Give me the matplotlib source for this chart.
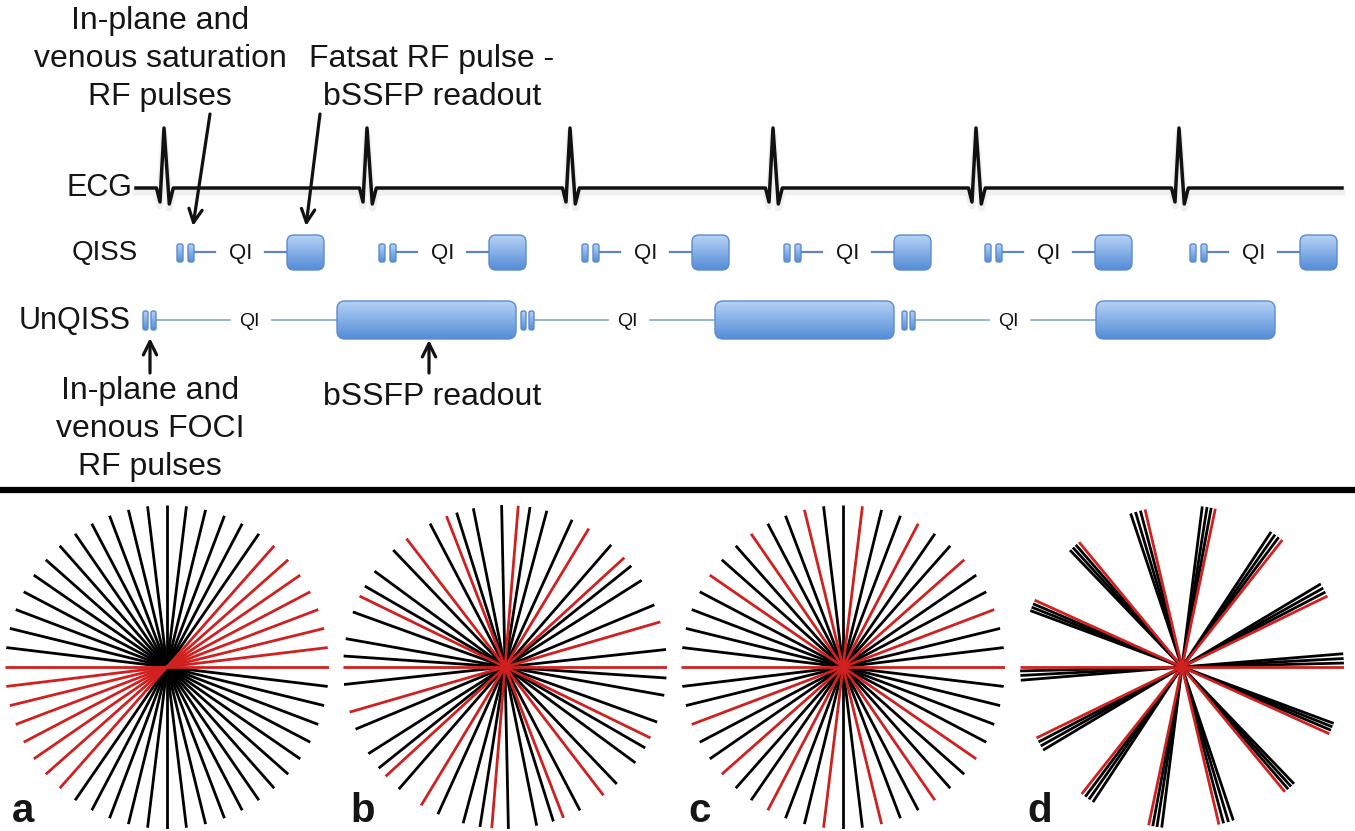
import numpy as np
import matplotlib
matplotlib.use("Agg")
import matplotlib.pyplot as plt
from matplotlib.patches import FancyBboxPatch

plt.rcParams['font.family'] = ['Liberation Sans', 'DejaVu Sans']

# ---- data ----
ecg_peaks = [164, 367, 570, 773, 976, 1179]          # R-wave positions
qiss_starts = [177, 379, 582, 784, 985, 1190]        # QISS cycle starts
unqiss_starts = [143, 521, 902]                      # UnQISS cycle starts

# spoke angles (degrees), each spoke is a full diameter
a_red = [0, 6.9, 13.8, 20.8, 27.7, 34.6, 41.5, 48.5]
a_black = [55.4, 62.3, 69.2, 76.2, 83.1, 90, 96.9, 103.8, 110.8, 117.7, 124.6,
           131.5, 138.5, 145.4, 152.3, 159.2, 166.2, 173.1]
b_red = [0, 16.2, 42.5, 58.8, 85.3, 111.2, 127.5, 154.0]
b_black = [6.2, 22.6, 32.4, 38.7, 49.0, 65.5, 75.0, 81.1, 91.2, 101.3, 107.4,
           117.6, 133.7, 143.7, 150.0, 160.1, 169.9, 176.1]
c_red = [0, 20.8, 41.5, 62.3, 83.1, 103.8, 124.6, 145.4]
c_black = [6.9, 13.8, 27.7, 34.6, 48.5, 55.4, 69.2, 76.2, 90, 96.9, 110.8,
           117.7, 131.5, 138.5, 152.3, 159.2, 166.2, 173.1]
d_red = [0, 26.0, 51.7, 78.1, 103.2, 129.5, 155.6]
d_black = [1.4, 3.0, 4.7, 27.6, 29.2, 30.9, 53.3, 54.9, 56.6, 79.6, 81.1, 82.8,
           104.9, 106.7, 108.5, 131.0, 132.4, 133.8, 157.0, 158.3, 159.6]
panels = [('a', a_black, a_red, 167), ('b', b_black, b_red, 505),
          ('c', c_black, c_red, 843), ('d', d_black, d_red, 1182)]

W, H = 1355, 831
fig = plt.figure(figsize=(W / 100, H / 100), dpi=100)
ax = fig.add_axes([0, 0, 1, 1])
ax.axis('off')

TXT = '#151515'
RED = '#d02020'

light = np.array([182, 210, 246]) / 255
dark = np.array([84, 140, 214]) / 255
t = np.linspace(0, 1, 64)[:, None, None]
grad = light * (1 - t) + dark * t
grad = np.repeat(grad, 2, axis=1)


def glossy(x, y, w, h, rad, ec='#5a8cd0'):
    patch = FancyBboxPatch((x, y), w, h, boxstyle=f"round,pad=0,rounding_size={rad}",
                           fc='none', ec=ec, lw=1.0, zorder=4)
    ax.add_patch(patch)
    im = ax.imshow(grad, extent=(x, x + w, y + h, y), origin='upper',
                   aspect='auto', zorder=3, interpolation='bilinear')
    im.set_clip_path(patch)


# ---- ECG ----
ex = [136]
ey = [188]
for p in ecg_peaks:
    ex += [p - 7.5, p - 4, p, p + 5.3, p + 9.3]
    ey += [188, 202, 128, 204, 188]
ex.append(1342)
ey.append(188)
ax.plot(ex, np.array(ey) + 4, color='#999999', lw=5, alpha=0.15, solid_joinstyle='round', zorder=1)
ax.plot(ex, ey, color='#111111', lw=2.5, solid_joinstyle='round', zorder=2)

# ---- QISS row ----
for s in qiss_starts:
    glossy(s, 244, 6, 18, 2)
    glossy(s + 11, 244, 6, 18, 2)
    ax.plot([s + 17, s + 38], [252, 252], color='#5f86b8', lw=1.6, zorder=2)
    ax.text(s + 63.5, 253, 'QI', fontsize=16, color=TXT, ha='center', va='center')
    ax.plot([s + 88, s + 111], [252, 252], color='#5f86b8', lw=1.6, zorder=2)
    glossy(s + 110, 235, 37, 35, 7)

# ---- UnQISS row ----
for s in unqiss_starts:
    glossy(s, 311, 5, 19, 2)
    glossy(s + 8, 311, 5, 19, 2)
    ax.plot([s + 13, s + 87], [320, 320], color='#86a6cc', lw=1.2, zorder=2)
    ax.text(s + 106, 322, 'QI', fontsize=14, color=TXT, ha='center', va='center')
    ax.plot([s + 129, s + 194], [320, 320], color='#86a6cc', lw=1.2, zorder=2)
    glossy(s + 194, 301, 179, 38, 8)

# ---- labels ----
ax.text(132, 188, 'ECG', fontsize=22, color=TXT, ha='right', va='center')
ax.text(138, 253, 'QISS', fontsize=20, color=TXT, ha='right', va='center')
ax.text(131, 321, 'UnQISS', fontsize=22, color=TXT, ha='right', va='center')

ax.text(160, 59, 'In-plane and\nvenous saturation\nRF pulses', fontsize=23, color=TXT,
        ha='center', va='center', multialignment='center', linespacing=1.34)
ax.text(432, 78, 'Fatsat RF pulse -\nbSSFP readout', fontsize=23, color=TXT,
        ha='center', va='center', multialignment='center', linespacing=1.34)
ax.text(150, 429, 'In-plane and\nvenous FOCI\nRF pulses', fontsize=23, color=TXT,
        ha='center', va='center', multialignment='center', linespacing=1.34)
ax.text(432, 397, 'bSSFP readout', fontsize=23, color=TXT, ha='center', va='center')

arrow = dict(arrowstyle='->', lw=2.3, color='#111111', mutation_scale=24,
             shrinkA=0, shrinkB=0)
ax.annotate('', xy=(193, 226), xytext=(210, 114), arrowprops=arrow)
ax.annotate('', xy=(306, 226), xytext=(320, 114), arrowprops=arrow)
ax.annotate('', xy=(150, 338), xytext=(150, 373), arrowprops=arrow)
ax.annotate('', xy=(429, 340), xytext=(429, 373), arrowprops=arrow)

# separator
ax.plot([0, W], [490, 490], color='black', lw=4.5, solid_capstyle='butt')

ax.set_xlim(0, W)
ax.set_ylim(H, 0)

# ---- radial trajectories ----
R = 162
CY = 667
for name, blk, red, cx in panels:
    pax = fig.add_axes([(cx - R) / W, (H - CY - R) / H, 2 * R / W, 2 * R / H],
                       projection='polar')
    pax.axis('off')
    pax.set_ylim(0, 1)
    for ang, col in [(blk, 'black'), (red, RED)]:
        th = np.deg2rad(np.array(ang, dtype=float))
        th = np.concatenate([th, th + np.pi])
        pax.vlines(th, 0, 1, colors=col, lw=2.0)
    fig.text((cx - 155) / W, (H - 822) / H, name, fontsize=29, fontweight='bold',
             color=TXT, ha='left', va='baseline')

fig.savefig('out.png', dpi=100)
